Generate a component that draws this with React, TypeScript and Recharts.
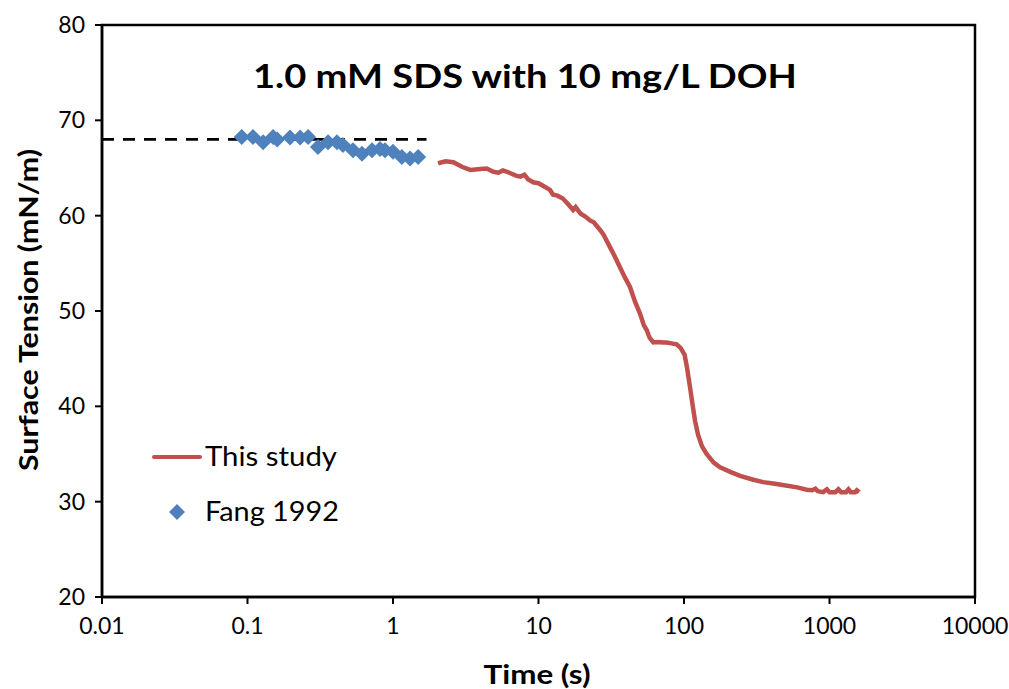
import React from 'react';
import { ComposedChart, Line, Scatter, XAxis, YAxis, ReferenceArea, Legend } from 'recharts';

const xTicks = [0.01, 0.1, 1, 10, 100, 1000, 10000];
const yTicks = [20, 30, 40, 50, 60, 70, 80];

const studyTime = [2.04, 2.3, 2.6, 3.0, 3.4, 4.0, 4.4, 4.9, 5.3, 5.7, 6.3, 7.0, 7.5, 8.0, 8.5, 9.2, 10.0, 11.1, 12.0, 12.6, 13.5, 14.7, 16.0, 17.3, 18.0, 19.5, 21, 22.6, 24, 26.5, 28, 31, 33, 36.3, 39, 42.6, 46, 49.9, 53, 55.4, 58, 61.5, 66, 72, 76, 82, 89, 95, 101, 105, 110, 115, 119, 125, 133, 143, 160, 177, 210, 243, 300, 350, 411, 500, 600, 697, 760, 800, 830, 906, 960, 1000, 1100, 1150, 1200, 1300, 1350, 1400, 1500, 1540, 1600];
const studyTension = [65.5, 65.7, 65.6, 65.1, 64.8, 64.9, 64.95, 64.6, 64.5, 64.75, 64.5, 64.2, 64.1, 64.3, 63.8, 63.5, 63.4, 63.0, 62.7, 62.2, 62.1, 61.8, 61.2, 60.6, 60.9, 60.2, 59.9, 59.5, 59.3, 58.5, 58.0, 56.7, 55.9, 54.6, 53.6, 52.5, 51.0, 49.7, 48.5, 48.0, 47.2, 46.7, 46.75, 46.7, 46.7, 46.6, 46.5, 46.1, 45.4, 44.0, 42.0, 40.0, 38.5, 37.0, 35.8, 35.0, 34.1, 33.6, 33.1, 32.7, 32.3, 32.05, 31.9, 31.7, 31.5, 31.25, 31.2, 31.35, 31.1, 31.0, 31.3, 31.0, 31.0, 31.3, 31.0, 31.0, 31.3, 31.0, 31.0, 31.2, 31.0];

const fangTime = [0.0912, 0.109, 0.128, 0.150, 0.16, 0.196, 0.230, 0.261, 0.305, 0.358, 0.412, 0.453, 0.531, 0.612, 0.718, 0.814, 0.881, 1.0, 1.15, 1.31, 1.49];
const fangTension = [68.25, 68.25, 67.7, 68.25, 68.0, 68.2, 68.2, 68.25, 67.2, 67.7, 67.7, 67.4, 66.85, 66.5, 66.85, 67.0, 66.85, 66.7, 66.15, 66.0, 66.15];

const dashTime = [0.01, 1.7];
const dashTension = [68, 68];

const studyData = studyTime.map((t, i) => ({ t, v: studyTension[i] }));
const fangData = fangTime.map((t, i) => ({ t, v: fangTension[i] }));
const dashData = dashTime.map((t, i) => ({ t, v: dashTension[i] }));

const FONT = 'Lato, "Open Sans", sans-serif';
const RED = '#C0504D';
const BLUE = '#4F81BD';

const fmt = (v: number) => (v < 1 ? String(v) : String(Math.round(v)));

const Diamond = (props: any) => {
  const { cx, cy } = props;
  if (cx == null || cy == null) return null;
  const r = 8;
  return <polygon points={`${cx},${cy - r} ${cx + r},${cy} ${cx},${cy + r} ${cx - r},${cy}`} fill={BLUE} />;
};

const LegendContent = () => (
  <svg width={240} height={110} style={{ display: 'block' }}>
    <line x1={4} y1={22} x2={50} y2={22} stroke={RED} strokeWidth={4} strokeLinecap="round" />
    <text x={55} y={22} dy="0.35em" fontSize={26} fontFamily={FONT} fill="#000" textLength={132} lengthAdjust="spacingAndGlyphs">This study</text>
    <polygon points="27,69 35,77 27,85 19,77" fill={BLUE} />
    <text x={55} y={77} dy="0.35em" fontSize={26} fontFamily={FONT} fill="#000" textLength={134} lengthAdjust="spacingAndGlyphs">Fang 1992</text>
  </svg>
);

export default function App() {
  return (
    <div style={{ position: 'absolute', left: 0, top: 0, width: 1009, height: 689, background: '#fff' }}>
      <ComposedChart width={1009} height={689} margin={{ top: 25, right: 34, bottom: 0, left: 2 }}>
        <XAxis
          dataKey="t"
          type="number"
          scale="log"
          domain={[0.01, 10000]}
          ticks={xTicks}
          allowDataOverflow
          tickFormatter={fmt}
          tickSize={7}
          tickMargin={14}
          height={92}
          axisLine={{ stroke: '#000', strokeWidth: 2.5 }}
          tickLine={{ stroke: '#000', strokeWidth: 2 }}
          tick={{ fill: '#000', fontSize: 23, fontFamily: FONT }}
        />
        <YAxis
          dataKey="v"
          type="number"
          domain={[20, 80]}
          ticks={yTicks}
          allowDataOverflow
          width={100}
          tickSize={7}
          tickMargin={10}
          axisLine={{ stroke: '#000', strokeWidth: 2.5 }}
          tickLine={{ stroke: '#000', strokeWidth: 2 }}
          tick={{ fill: '#000', fontSize: 23, fontFamily: FONT }}
        />
        <ReferenceArea x1={0.01} x2={10000} y1={20} y2={80} fill="none" fillOpacity={0} stroke="#000" strokeWidth={2.5} ifOverflow="visible" />
        <Line data={dashData} dataKey="v" stroke="#000" strokeWidth={2.8} strokeDasharray="12 9" dot={false} isAnimationActive={false} legendType="none" />
        <Scatter data={fangData} dataKey="v" name="Fang 1992" shape={Diamond} isAnimationActive={false} />
        <Line data={studyData} dataKey="v" name="This study" stroke={RED} strokeWidth={4.5} dot={false} isAnimationActive={false} />
        <Legend layout="vertical" align="center" verticalAlign="middle" content={LegendContent} wrapperStyle={{ left: 150, top: 435, width: 240, height: 110 }} />
      </ComposedChart>
      <svg width={1009} height={689} style={{ position: 'absolute', left: 0, top: 0, pointerEvents: 'none' }}>
        <text x={525} y={76} textAnchor="middle" dy="0.35em" fontSize={33} fontWeight="bold" fontFamily={FONT} fill="#000" textLength={544} lengthAdjust="spacingAndGlyphs">1.0 mM SDS with 10 mg/L DOH</text>
        <text x={537} y={675} textAnchor="middle" dy="0.35em" fontSize={27} fontWeight="bold" fontFamily={FONT} fill="#000" textLength={107} lengthAdjust="spacingAndGlyphs">Time (s)</text>
        <text transform="translate(29,310) rotate(-90)" textAnchor="middle" dy="0.35em" fontSize={27} fontWeight="bold" fontFamily={FONT} fill="#000" textLength={322} lengthAdjust="spacingAndGlyphs">Surface Tension (mN/m)</text>
      </svg>
    </div>
  );
}
